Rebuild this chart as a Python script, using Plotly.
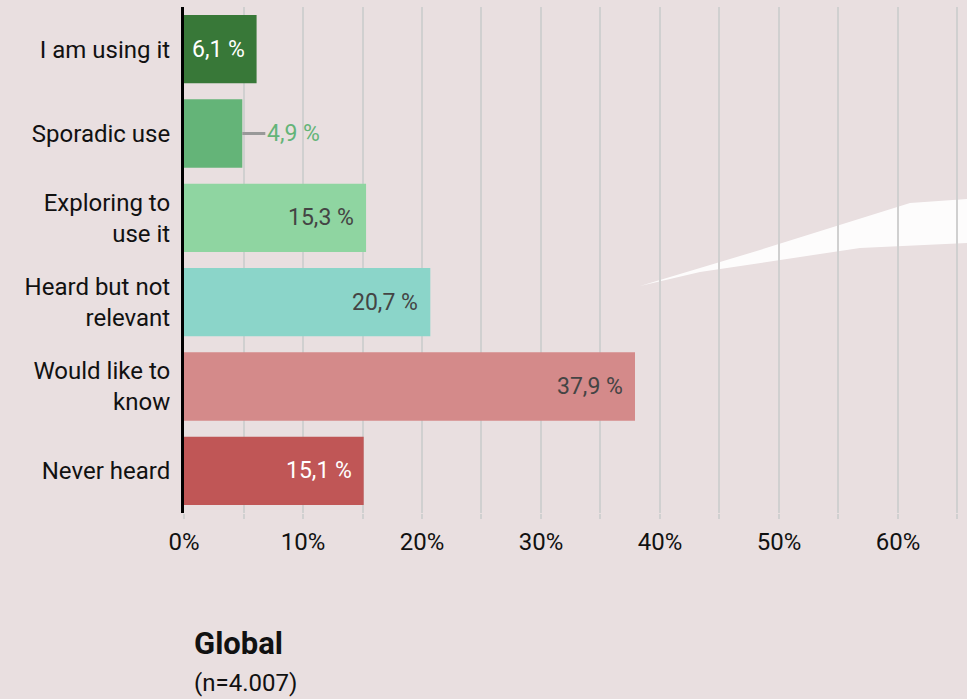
import plotly.graph_objects as go

categories = ["I am using it", "Sporadic use", "Exploring to<br>use it",
              "Heard but not<br>relevant", "Would like to<br>know", "Never heard"]
values = [6.1, 4.9, 15.3, 20.7, 37.9, 15.1]
bar_colors = ["#387838", "#64b478", "#8fd5a1", "#8bd5c9", "#d48a8a", "#c05656"]
label_colors = ["#ffffff", "#64b478", "#444444", "#444444", "#444444", "#ffffff"]
label_outside = [False, True, False, False, False, False]
tick_vals = [0, 10, 20, 30, 40, 50, 60]
tick_text = ["0%", "10%", "20%", "30%", "40%", "50%", "60%"]
title_text = "Global"
subtitle_text = "(n=4.007)"

FONT = "Roboto"
BG = "#e9dfe0"
W, H = 967, 699
ML, MR, MT, MB = 184, 0, 7, 186
PW, PH = W - ML - MR, H - MT - MB

def px_to_paper(px, py):
    return (px - ML) / PW, (H - MB - py) / PH

fig = go.Figure(go.Bar(
    y=categories, x=values, orientation="h",
    marker=dict(color=bar_colors, line=dict(width=0)),
    hoverinfo="skip",
))

annotations = []
for cat, v, col, out in zip(categories, values, label_colors, label_outside):
    txt = f"{v:.1f}".replace(".", ",") + " %"
    if out:
        annotations.append(dict(x=v, y=cat, xref="x", yref="y", text=txt,
                                showarrow=True, arrowhead=0, arrowwidth=3,
                                arrowcolor="#999999", ax=23, ay=0, standoff=0,
                                xanchor="left", yanchor="middle",
                                font=dict(family=FONT, size=23, color=col)))
    else:
        annotations.append(dict(x=v, y=cat, xref="x", yref="y", text=txt,
                                showarrow=False, xanchor="right", yanchor="middle",
                                xshift=-10,
                                font=dict(family=FONT, size=23, color=col)))

tx, ty = px_to_paper(192, 643)
annotations.append(dict(x=tx, y=ty, xref="paper", yref="paper", text=f"<b>{title_text}</b>",
                        showarrow=False, xanchor="left", yanchor="middle",
                        font=dict(family=FONT, size=31, color="#111111")))
sx, sy = px_to_paper(192, 683)
annotations.append(dict(x=sx, y=sy, xref="paper", yref="paper", text=subtitle_text,
                        showarrow=False, xanchor="left", yanchor="middle",
                        font=dict(family=FONT, size=24, color="#111111")))

# decorative white streak of the background watermark
pts = [(640, 286), (760, 250), (910, 203), (967, 199), (967, 243), (860, 248), (700, 272)]
path = "M " + " L ".join(f"{px_to_paper(a, b)[0]},{px_to_paper(a, b)[1]}" for a, b in pts) + " Z"
shapes = [dict(type="path", path=path, xref="paper", yref="paper",
               fillcolor="rgba(255,255,255,0.9)", line=dict(width=0), layer="below")]

fig.update_layout(
    width=W, height=H,
    margin=dict(l=ML, r=MR, t=MT, b=MB),
    paper_bgcolor=BG, plot_bgcolor="rgba(0,0,0,0)",
    bargap=0.19, showlegend=False,
    annotations=annotations, shapes=shapes,
    font=dict(family=FONT, size=24, color="#111111"),
)
fig.update_xaxes(range=[0, 65.8], tickvals=tick_vals, ticktext=tick_text,
                 showgrid=True, gridcolor="#d0d0d0", gridwidth=2,
                 minor=dict(dtick=5, showgrid=True, gridcolor="#d0d0d0", gridwidth=2,
                            ticks="outside", ticklen=5, tickcolor="#d0d0d0", tickwidth=2),
                 ticks="outside", ticklen=5, tickcolor="#d0d0d0", tickwidth=2,
                 ticklabelstandoff=2, zeroline=False, showline=False,
                 tickfont=dict(family=FONT, size=24, color="#111111"))
fig.update_yaxes(autorange="reversed", showline=True, linecolor="#000000", linewidth=3,
                 ticks="", ticklabelstandoff=6, showgrid=False,
                 tickfont=dict(family=FONT, size=24, color="#111111"))

fig.write_html("out.html", config={"displayModeBar": False},
               post_script=f"document.body.style.margin='0';document.body.style.overflow='hidden';document.body.style.background='{BG}';")
